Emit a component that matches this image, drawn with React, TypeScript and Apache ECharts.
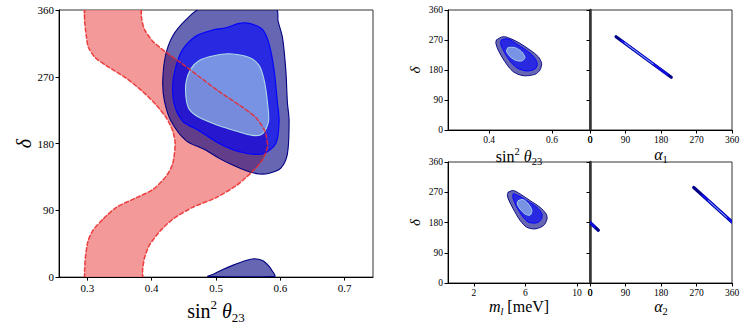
import React, { useEffect, useRef } from 'react';
import * as echarts from 'echarts';

const SERIF = "'Liberation Serif', 'DejaVu Serif', serif";

// tick values
const mainXTicks = [0.3, 0.4, 0.5, 0.6, 0.7];
const s23Ticks = [0.4, 0.6];
const mlTicks = [2, 6, 10];
const angleTicks = [0, 90, 180, 270, 360];

// main panel: red band, boundaries
const redLeft = [
  [0.2958, 362], [0.2958, 345], [0.2984, 325], [0.3015, 310], [0.312, 296], [0.3295, 285], [0.3605, 268],
  [0.3862, 250], [0.407, 232], [0.4225, 215], [0.4327, 197], [0.4364, 180], [0.4327, 153],
  [0.4225, 136], [0.4017, 118], [0.376, 107], [0.345, 94], [0.3242, 78], [0.3087, 63],
  [0.3009, 48], [0.2969, 26], [0.2958, 10], [0.2958, -2],
];
const redRight = [
  [0.386, -2], [0.386, 10], [0.389, 26], [0.3966, 43], [0.4121, 61], [0.4327, 78], [0.4638, 94], [0.5, 107],
  [0.531, 123], [0.554, 140], [0.5722, 158], [0.58, 176], [0.5775, 193], [0.5749, 199],
  [0.562, 215], [0.536, 232], [0.505, 250], [0.4741, 270], [0.4483, 287], [0.4225, 303],
  [0.4017, 318], [0.3888, 334], [0.3845, 348], [0.3837, 362],
];

// main panel: blue contours (3, 2, 1 sigma)
const mainOuter = [
  [0.4767, 362], [0.593, 362], [0.5965, 345], [0.6033, 323], [0.6085, 279], [0.611, 235], [0.6136, 211],
  [0.611, 166], [0.6008, 147], [0.5826, 140], [0.5671, 139], [0.5516, 142], [0.5258, 151],
  [0.505, 160], [0.4845, 171], [0.4535, 184], [0.4302, 210], [0.4199, 237], [0.4172, 263],
  [0.4214, 298], [0.4327, 325], [0.4535, 347],
];
const mainMiddle = [
  [0.469, 325], [0.4948, 333], [0.5155, 336], [0.536, 342], [0.5516, 342], [0.5722, 334],
  [0.5826, 314], [0.5903, 279], [0.5955, 235], [0.5981, 210], [0.593, 180], [0.5722, 166],
  [0.536, 169], [0.505, 180], [0.4741, 197], [0.4483, 210], [0.4353, 232], [0.4327, 259],
  [0.438, 285], [0.4483, 307],
];
const mainInner = [
  [0.4948, 298], [0.5206, 301], [0.5516, 296], [0.5671, 285], [0.5749, 265], [0.58, 235],
  [0.5816, 210], [0.5722, 193], [0.5567, 191], [0.531, 197], [0.505, 204], [0.4741, 215],
  [0.4586, 226], [0.4535, 241], [0.4535, 263], [0.4612, 281], [0.4741, 292],
];
const mainBlob = [
  [0.487, 1], [0.495, 3.5], [0.505, 8], [0.5258, 15.8], [0.5465, 22.4], [0.5594, 24.7],
  [0.5722, 22.4], [0.5826, 14.5], [0.5877, 8], [0.5915, 1],
];

// small panel: sin^2 theta23 vs delta
const s23Outer = [
  [0.4236, 270], [0.4447, 280], [0.466, 275], [0.498, 260], [0.53, 240], [0.5563, 220],
  [0.567, 200], [0.5617, 180], [0.5458, 167], [0.5085, 163], [0.4766, 175], [0.45, 205],
  [0.4287, 240], [0.4214, 260],
];
const s23Middle = [
  [0.4395, 270], [0.4606, 273], [0.4925, 255], [0.5244, 235], [0.5458, 215], [0.5531, 197],
  [0.5458, 183], [0.5193, 177], [0.4874, 187], [0.4638, 210], [0.4447, 240], [0.4364, 260],
];
const s23Inner = [
  [0.4606, 247], [0.482, 247], [0.5033, 235], [0.5139, 217], [0.5033, 207], [0.482, 210],
  [0.4638, 223], [0.4555, 237],
];

// small panel: m_l vs delta
const mlOuter = [
  [4.67, 270], [5.06, 275], [5.585, 265], [6.365, 245], [7.14, 225], [7.61, 205], [7.67, 190],
  [7.4, 171], [6.75, 161], [6.1, 166], [5.585, 186], [5.06, 220], [4.67, 250], [4.6, 262],
];
const mlMiddle = [
  [5.06, 265], [5.45, 260], [6.1, 245], [6.89, 225], [7.28, 205], [7.22, 189], [6.89, 179],
  [6.23, 181], [5.72, 201], [5.27, 230], [5.02, 255],
];
const mlInner = [
  [5.45, 245], [5.84, 248], [6.23, 235], [6.5, 216], [6.36, 202], [5.975, 205], [5.585, 220],
  [5.37, 235],
];

// small panels: alpha1 / alpha2 vs delta (thin bands)
const a1Outer = [[66, 280], [206, 158]];
const a1Middle = [[80, 268], [196, 167]];
const a1Inner = [[88, 261], [160, 198]];
const a2OuterA = [[263, 284], [360, 181.5]];
const a2OuterB = [[0, 180], [21, 157]];
const a2MiddleA = [[285, 261], [360, 181.5]];
const a2MiddleB = [[0, 180], [12, 167]];
const a2Inner = [[300, 245], [346, 196]];

const OUTER_FILL = 'rgba(0,0,128,0.6)';
const OUTER_LINE = '#000080';
const MID_FILL = 'rgba(0,0,255,0.6)';
const MID_LINE = '#0000ff';
const INNER_FILL = 'rgba(173,216,230,0.6)';
const INNER_LINE = '#add8e6';
const RED_FILL = 'rgba(240,128,128,0.8)';
const RED_LINE = 'rgba(235,40,40,0.85)';

function shapeSeries(gi: number, pts: number[][], opts: any) {
  const closed = opts.closed !== false;
  return {
    type: 'custom',
    xAxisIndex: gi,
    yAxisIndex: gi,
    clip: true,
    silent: true,
    data: [pts[0]],
    renderItem: (params: any, api: any) => {
      const cs = params.coordSys;
      return {
        type: closed ? 'polygon' : 'polyline',
        shape: {
          points: pts.map((p) => api.coord(p)),
          smooth: opts.smooth ?? 0.3,
          smoothConstraint: [
            [cs.x - 2, cs.y - 2],
            [cs.x + cs.width + 2, cs.y + cs.height + 2],
          ],
        },
        style: {
          fill: closed ? opts.fill : null,
          stroke: opts.stroke ?? null,
          lineWidth: opts.lw ?? 1,
          lineDash: opts.dash,
          lineCap: 'round',
          lineJoin: 'round',
        },
      };
    },
  };
}

function contour(gi: number, outer: number[][], middle: number[][], inner: number[][], lw = 1) {
  return [
    shapeSeries(gi, outer, { fill: OUTER_FILL, stroke: OUTER_LINE, lw }),
    shapeSeries(gi, middle, { fill: MID_FILL, stroke: MID_LINE, lw }),
    shapeSeries(gi, inner, { fill: INNER_FILL, stroke: INNER_LINE, lw }),
  ];
}

function band(gi: number, pts: number[][], color: string, w: number) {
  return shapeSeries(gi, pts, { closed: false, stroke: color, lw: w, smooth: 0 });
}

const axisLineStyle = { color: '#000', width: 1 };

function xAxisDef(gi: number, min: number, max: number, ticks: number[], fs: number, name: string, nameGap: number, rich: any) {
  return {
    gridIndex: gi,
    type: 'value',
    min,
    max,
    splitLine: { show: false },
    axisLine: { show: true, onZero: false, lineStyle: axisLineStyle },
    axisTick: { show: true, length: 3.5, lineStyle: axisLineStyle, customValues: ticks },
    axisLabel: {
      color: '#000', fontFamily: SERIF, fontSize: fs, margin: 5,
      showMinLabel: true, showMaxLabel: true, hideOverlap: false, customValues: ticks,
    },
    name,
    nameLocation: 'middle',
    nameGap,
    nameTextStyle: { color: '#000', fontFamily: SERIF, rich },
  };
}

function yAxisDef(gi: number, labels: boolean, fs: number, name: string, nameGap: number, nameSize: number) {
  return {
    gridIndex: gi,
    type: 'value',
    min: 0,
    max: 360,
    interval: 90,
    splitLine: { show: false },
    axisLine: { show: true, onZero: false, lineStyle: labels ? axisLineStyle : { color: '#333', width: 2.5 } },
    axisTick: { show: true, length: 3.5, lineStyle: axisLineStyle },
    axisLabel: { show: labels, color: '#000', fontFamily: SERIF, fontSize: fs, margin: 5, showMinLabel: true, showMaxLabel: true },
    name,
    nameLocation: 'middle',
    nameRotate: 90,
    nameGap,
    nameTextStyle: { color: '#000', fontFamily: SERIF, fontStyle: 'italic', fontSize: nameSize },
  };
}

function sinRich(big: number, small: number) {
  return {
    a: { fontSize: big, fontFamily: SERIF, lineHeight: big * 1.3, color: '#000' },
    s: { fontSize: small, fontFamily: SERIF, lineHeight: small, verticalAlign: 'top', color: '#000' },
    b: { fontSize: big, fontFamily: SERIF, fontStyle: 'italic', lineHeight: big * 1.3, color: '#000' },
    c: { fontSize: small, fontFamily: SERIF, lineHeight: small, verticalAlign: 'bottom', color: '#000' },
    ci: { fontSize: small, fontFamily: SERIF, fontStyle: 'italic', lineHeight: small, verticalAlign: 'bottom', color: '#000' },
  };
}

export default function App() {
  const ref = useRef<HTMLDivElement>(null);
  useEffect(() => {
    if (!ref.current) return;
    const chart = echarts.init(ref.current, null, { renderer: 'svg' });
    const gridStyle = { show: true, borderColor: '#333', borderWidth: 1, backgroundColor: 'transparent' };
    const option: any = {
      animation: false,
      grid: [
        { left: 59, top: 10, width: 314, height: 273, ...gridStyle },
        { left: 448, top: 10, width: 142, height: 120, ...gridStyle },
        { left: 590, top: 10, width: 142, height: 120, ...gridStyle },
        { left: 448, top: 162, width: 142, height: 121, ...gridStyle },
        { left: 590, top: 162, width: 142, height: 121, ...gridStyle },
      ],
      xAxis: [
        xAxisDef(0, 0.256, 0.744, mainXTicks, 11, '{a|sin}{s|2}{b| θ}{c|23}', 12, sinRich(20, 13)),
        xAxisDef(1, 0.269, 0.721, s23Ticks, 9.5, '{a|sin}{s|2}{b| θ}{c|23}', 14, sinRich(16, 10.5)),
        xAxisDef(2, 0, 360, angleTicks, 9.5, '{b|α}{c|1}', 14, sinRich(16, 10.5)),
        xAxisDef(3, 0, 11, mlTicks, 9.5, '{b|m}{ci|l}{a| [meV]}', 12, sinRich(16, 10.5)),
        xAxisDef(4, 0, 360, angleTicks, 9.5, '{b|α}{c|2}', 12, sinRich(16, 10.5)),
      ],
      yAxis: [
        yAxisDef(0, true, 11, 'δ', 25, 20),
        yAxisDef(1, true, 9.5, 'δ', 26, 15),
        yAxisDef(2, false, 9.5, '', 0, 15),
        yAxisDef(3, true, 9.5, 'δ', 26, 15),
        yAxisDef(4, false, 9.5, '', 0, 15),
      ],
      series: [
        shapeSeries(0, [...redLeft, ...redRight], { fill: RED_FILL, smooth: 0.25 }),
        ...contour(0, mainOuter, mainMiddle, mainInner, 1.1),
        shapeSeries(0, mainBlob, { fill: OUTER_FILL, stroke: OUTER_LINE, lw: 1.1, smooth: 0.2 }),
        shapeSeries(0, redLeft, { closed: false, stroke: RED_LINE, lw: 1.5, dash: [4, 2.5], smooth: 0.25 }),
        shapeSeries(0, redRight, { closed: false, stroke: RED_LINE, lw: 1.5, dash: [4, 2.5], smooth: 0.25 }),
        ...contour(1, s23Outer, s23Middle, s23Inner, 0.9),
        ...contour(3, mlOuter, mlMiddle, mlInner, 0.9),
        band(2, a1Outer, '#00008b', 3.2),
        band(2, a1Middle, '#1010ee', 2.2),
        band(2, a1Inner, '#8fb4ec', 1),
        band(4, a2OuterA, '#00008b', 3.2),
        band(4, a2OuterB, '#00008b', 3.2),
        band(4, a2MiddleA, '#1010ee', 2.2),
        band(4, a2MiddleB, '#1010ee', 2.2),
        band(4, a2Inner, '#8fb4ec', 1),
      ],
    };
    chart.setOption(option);

    // the origin label of the angle axes is suppressed by the library; add it at its scale position
    const zeroLabels: any[] = [];
    [2, 4].forEach((gi) => {
      const p = chart.convertToPixel({ xAxisIndex: gi, yAxisIndex: gi } as any, [angleTicks[0], 0]) as number[];
      if (p) {
        zeroLabels.push({
          type: 'text',
          x: p[0],
          y: p[1] + 5,
          silent: true,
          style: {
            text: String(angleTicks[0]),
            fontFamily: SERIF,
            fontSize: 9.5,
            fill: '#000',
            align: 'center',
            verticalAlign: 'top',
          },
        });
      }
    });
    chart.setOption({ graphic: zeroLabels });
    return () => chart.dispose();
  }, []);
  return <div ref={ref} style={{ position: 'absolute', left: 0, top: 0, width: 747, height: 329 }} />;
}
